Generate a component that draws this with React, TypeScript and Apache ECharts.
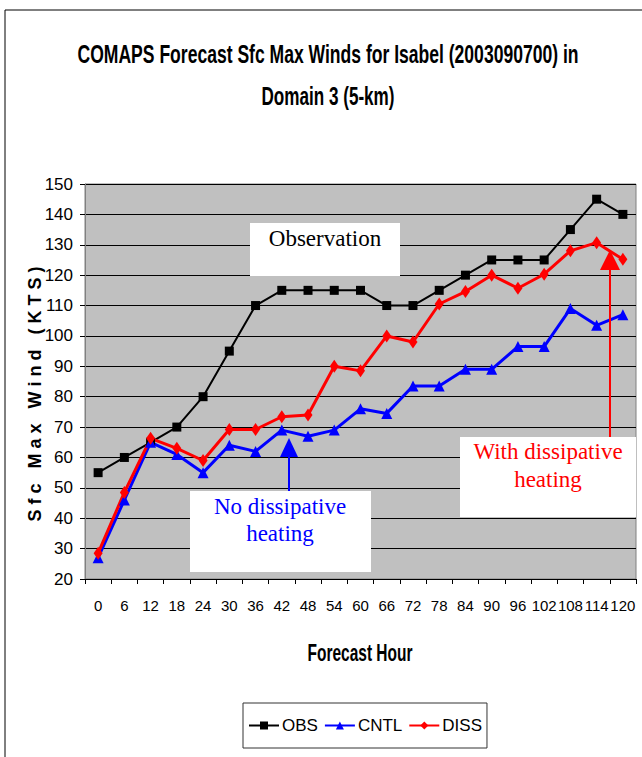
import React, { useEffect, useRef } from "react";
import * as echarts from "echarts";

const hours = ["0","6","12","18","24","30","36","42","48","54","60","66","72","78","84","90","96","102","108","114","120"];
const obs = [55, 60, 65, 70, 80, 95, 110, 115, 115, 115, 115, 110, 110, 115, 120, 125, 125, 125, 135, 145, 140];
const cntl = [27, 46, 65, 61, 55, 64, 62, 69, 67, 69, 76, 74.5, 83.5, 83.5, 89, 89, 96.5, 96.5, 109, 103.5, 107];
const diss = [28.5, 48.5, 66.3, 63, 59, 69.2, 69.2, 73.4, 74, 90, 88.5, 100, 98, 110.5, 114.6, 120, 115.7, 120.3, 128, 130.7, 125.2];

const titleLines = ["COMAPS Forecast Sfc Max Winds for Isabel (2003090700) in", "Domain 3 (5-km)"];
const yName = "S f c   M a x   W i n d   ( K T S )";
const xName = "Forecast Hour";

const SANS = "'Liberation Sans', Arial, sans-serif";
const SERIF = "'Liberation Serif', 'Times New Roman', serif";

function fitScale(text: string, font: string, target: number): number {
  const ctx = document.createElement("canvas").getContext("2d")!;
  ctx.font = font;
  const w = ctx.measureText(text).width;
  return w > 0 ? target / w : 1;
}

export default function App() {
  const ref = useRef<HTMLDivElement>(null);
  useEffect(() => {
    const chart = echarts.init(ref.current!, null, { renderer: "svg" });
    const tFont = "bold 26px 'Liberation Sans'";
    const s1 = fitScale(titleLines[0], tFont, 501);
    const s2 = fitScale(titleLines[1], tFont, 133);
    const yFont = "bold 19px 'Liberation Sans'";
    const sy = fitScale(yName, yFont, 255);
    const xFont = "bold 23px 'Liberation Sans'";
    const sx = fitScale(xName, xFont, 105);
    chart.setOption({
      animation: false,
      backgroundColor: "#ffffff",
      grid: {
        left: 85, top: 184, right: 6, bottom: 178,
        show: true, backgroundColor: "#c0c0c0", borderColor: "#808080", borderWidth: 1,
      },
      legend: {
        left: 243, top: 703, width: 235, height: 49,
        padding: [14, 5, 14, 5],
        backgroundColor: "#fff", borderColor: "#333", borderWidth: 1,
        itemWidth: 30, itemHeight: 10, itemGap: 6,
        textStyle: { fontFamily: SANS, fontSize: 17, color: "#000", padding: [0, 0, 0, -2] },
        data: ["OBS", "CNTL", "DISS"],
      },
      xAxis: {
        type: "category",
        data: hours,
        boundaryGap: true,
        axisLine: { lineStyle: { color: "#000", width: 1 } },
        axisTick: { show: true, alignWithLabel: false, length: 5, lineStyle: { color: "#000" } },
        axisLabel: { fontFamily: SANS, fontSize: 15, color: "#000", margin: 19, interval: 0 },
      },
      yAxis: {
        type: "value",
        min: 20, max: 150, interval: 10,
        axisLine: { show: true, lineStyle: { color: "#808080", width: 1 } },
        axisTick: { show: true, inside: false, length: 5, lineStyle: { color: "#000" } },
        axisLabel: { fontFamily: SANS, fontSize: 17, color: "#000", margin: 12 },
        splitLine: { show: true, lineStyle: { color: "#000", width: 1 } },
      },
      series: [
        {
          name: "OBS", type: "line", data: obs, color: "#000",
          symbol: "rect", symbolSize: 9, showAllSymbol: true,
          lineStyle: { color: "#000", width: 2 },
          itemStyle: { color: "#000" },
        },
        {
          name: "CNTL", type: "line", data: cntl, color: "#0000ff",
          symbol: "triangle", symbolSize: 11, showAllSymbol: true,
          lineStyle: { color: "#0000ff", width: 3 },
          itemStyle: { color: "#0000ff" },
        },
        {
          name: "DISS", type: "line", data: diss, color: "#ff0000",
          symbol: "diamond", symbolSize: [9, 13], showAllSymbol: true,
          lineStyle: { color: "#ff0000", width: 3 },
          itemStyle: { color: "#ff0000" },
        },
      ],
      graphic: [
        { type: "rect", z: 0, silent: true, shape: { x: 5, y: 10, width: 800, height: 900 }, style: { fill: "none", stroke: "#000", lineWidth: 1 } },
        { type: "text", z: 10, x: 328, y: 54, scaleX: s1, style: { text: titleLines[0], fontFamily: SANS, fontWeight: "bold", fontSize: 26, fill: "#000", textAlign: "center", textVerticalAlign: "middle" } },
        { type: "text", z: 10, x: 328, y: 96, scaleX: s2, style: { text: titleLines[1], fontFamily: SANS, fontWeight: "bold", fontSize: 26, fill: "#000", textAlign: "center", textVerticalAlign: "middle" } },
        {
          type: "text", z: 10, x: 34, y: 394, rotation: Math.PI / 2, scaleX: sy,
          style: { text: yName, fontFamily: SANS, fontWeight: "bold", fontSize: 19, fill: "#000", textAlign: "center", textVerticalAlign: "middle" },
        },
        { type: "text", z: 10, x: 360, y: 653, scaleX: sx, style: { text: xName, fontFamily: SANS, fontWeight: "bold", fontSize: 23, fill: "#000", textAlign: "center", textVerticalAlign: "middle" } },
        { type: "rect", z: 10, shape: { x: 250, y: 223, width: 150, height: 53 }, style: { fill: "#fff" } },
        { type: "text", z: 11, x: 325, y: 238, style: { text: "Observation", fontFamily: SERIF, fontSize: 23, fill: "#000", textAlign: "center", textVerticalAlign: "middle" } },
        { type: "rect", z: 10, shape: { x: 190, y: 491, width: 181, height: 81 }, style: { fill: "#fff" } },
        { type: "text", z: 11, x: 280, y: 520, style: { text: "No dissipative\nheating", fontFamily: SERIF, fontSize: 23, lineHeight: 27, fill: "#0000ff", textAlign: "center", textVerticalAlign: "middle" } },
        { type: "line", z: 11, shape: { x1: 289, y1: 455, x2: 289, y2: 491 }, style: { stroke: "#0000ff", lineWidth: 2 } },
        { type: "polygon", z: 11, shape: { points: [[289, 438], [280, 457], [298, 457]] }, style: { fill: "#0000ff" } },
        { type: "rect", z: 10, shape: { x: 460, y: 437, width: 176, height: 80 }, style: { fill: "#fff" } },
        { type: "text", z: 11, x: 548, y: 465, style: { text: "With dissipative\nheating", fontFamily: SERIF, fontSize: 23, lineHeight: 28, fill: "#ff0000", textAlign: "center", textVerticalAlign: "middle" } },
        { type: "line", z: 11, shape: { x1: 610, y1: 268, x2: 610, y2: 437 }, style: { stroke: "#ff0000", lineWidth: 2 } },
        { type: "polygon", z: 11, shape: { points: [[610, 250], [600, 270], [620, 270]] }, style: { fill: "#ff0000" } },
      ],
    });
    return () => chart.dispose();
  }, []);
  return <div ref={ref} style={{ width: 642, height: 757, position: "absolute", left: 0, top: 0 }} />;
}
